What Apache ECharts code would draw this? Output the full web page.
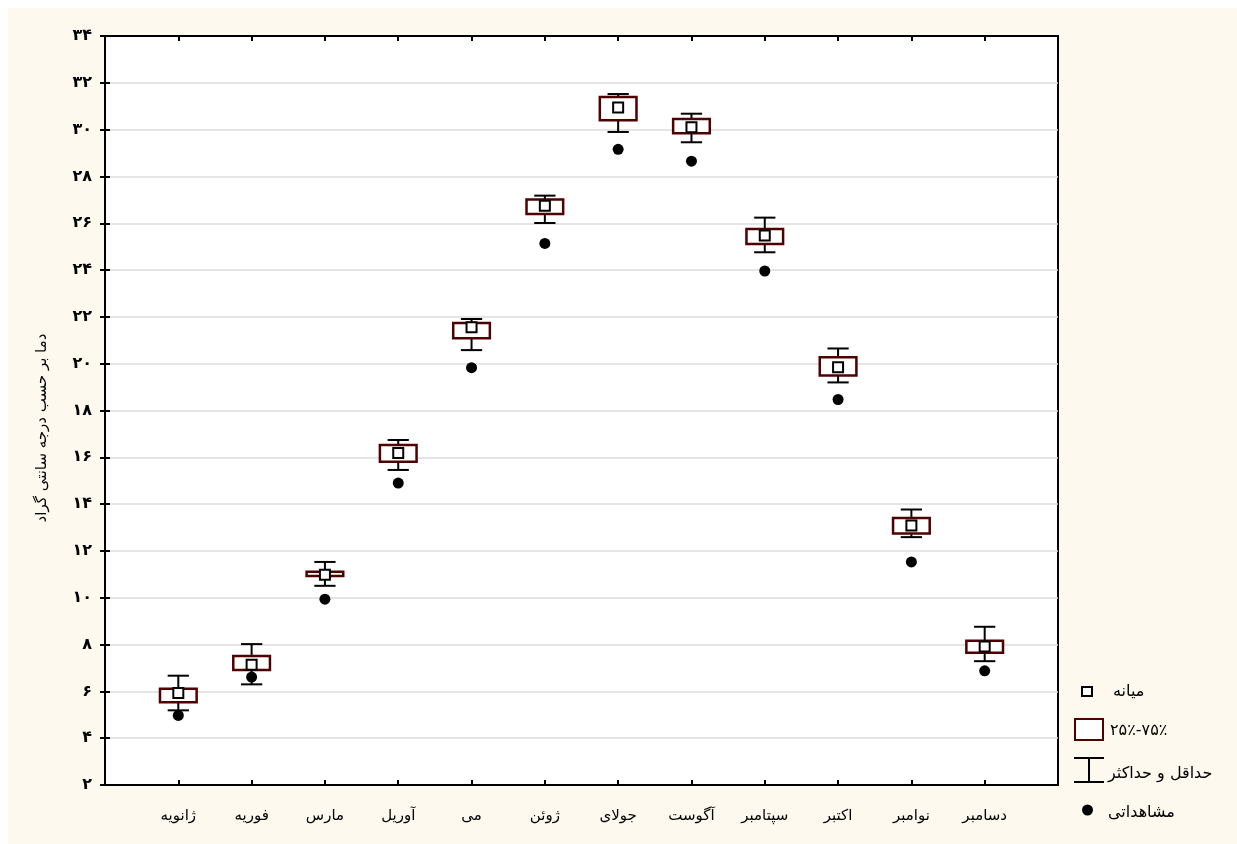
<!DOCTYPE html>
<html lang="fa">
<head>
<meta charset="utf-8">
<title>دما بر حسب درجه سانتی گراد</title>
<script src="https://cdn.jsdelivr.net/npm/echarts@6/dist/echarts.min.js"></script>
<style>
  html, body { margin: 0; padding: 0; background: #ffffff; }
  #chart { position: absolute; left: 8px; top: 8px; width: 1229px; height: 836px; }
</style>
</head>
<body>
<div id="chart"></div>
<script>
// Monthly temperature ranges (°C)
const months = ['ژانویه', 'فوریه', 'مارس', 'آوریل', 'می', 'ژوئن', 'جولای', 'آگوست', 'سپتامبر', 'اکتبر', 'نوامبر', 'دسامبر'];
const whiskerMin = [5.19, 6.30, 10.51, 15.46, 20.58, 26.01, 29.90, 29.46, 24.76, 19.20, 12.59, 7.29];
const q1 =         [5.54, 6.91, 10.93, 15.81, 21.09, 26.39, 30.40, 29.84, 25.11, 19.49, 12.74, 7.65];
const median =     [5.93, 7.14, 10.98, 16.18, 21.56, 26.75, 30.95, 30.10, 25.48, 19.85, 13.09, 7.92];
const q3 =         [6.11, 7.51, 11.11, 16.53, 21.74, 27.02, 31.39, 30.45, 25.75, 20.28, 13.41, 8.16];
const whiskerMax = [6.67, 8.02, 11.53, 16.74, 21.91, 27.18, 31.52, 30.68, 26.24, 20.65, 13.77, 8.76];
const observed =   [4.97, 6.61, 9.94, 14.90, 19.83, 25.14, 29.16, 28.65, 23.96, 18.47, 11.53, 6.88];

const yMin = 2, yMax = 34, yStep = 2;
const yTitle = 'دما بر حسب درجه سانتی گراد';
const legendLabels = ['میانه', '۲۵٪-۷۵٪', 'حداقل و حداکثر', 'مشاهداتی'];

const FA_DIGITS = '۰۱۲۳۴۵۶۷۸۹';
const toFa = (n) => String(n).replace(/\d/g, (d) => FA_DIGITS[+d]);

const FONT = "'DejaVu Sans', sans-serif";
const BOX_COLOR = '#4f0000';

const boxData = months.map((m, i) => [i + 1, whiskerMin[i], q1[i], median[i], q3[i], whiskerMax[i]]);
const dotData = months.map((m, i) => [i + 1, observed[i]]);

function renderBox(params, api) {
  const x = api.value(0);
  const lo = api.coord([x, api.value(1)]);
  const b1 = api.coord([x, api.value(2)]);
  const md = api.coord([x, api.value(3)]);
  const b3 = api.coord([x, api.value(4)]);
  const hi = api.coord([x, api.value(5)]);
  const boxW = api.size([0.5, 0])[0];
  const capW = api.size([0.29, 0])[0];
  const cx = lo[0];
  const line = { stroke: '#000', lineWidth: 2 };
  return {
    type: 'group',
    children: [
      { type: 'line', shape: { x1: cx, y1: lo[1], x2: cx, y2: hi[1] }, style: line },
      { type: 'line', shape: { x1: cx - capW / 2, y1: hi[1], x2: cx + capW / 2, y2: hi[1] }, style: line },
      { type: 'line', shape: { x1: cx - capW / 2, y1: lo[1], x2: cx + capW / 2, y2: lo[1] }, style: line },
      { type: 'rect', shape: { x: cx - boxW / 2, y: b3[1], width: boxW, height: b1[1] - b3[1] },
        style: { fill: '#fff', stroke: BOX_COLOR, lineWidth: 2.5 } },
      { type: 'rect', shape: { x: cx - 5, y: md[1] - 5, width: 10, height: 10 },
        style: { fill: '#fff', stroke: '#000', lineWidth: 2 } }
    ]
  };
}

// Legend drawn at the right-hand side of the plot (coordinates within the chart box)
const OX = 8, OY = 8;
const legendText = (txt, x, y) => ({
  type: 'text', x: x - OX, y: y - OY,
  style: { text: txt, font: `16px ${FONT}`, fill: '#000', align: 'left', verticalAlign: 'middle' }
});
const legend = [
  { type: 'rect', shape: { x: 1082 - OX, y: 687 - OY, width: 10, height: 9 },
    style: { fill: '#fff', stroke: '#000', lineWidth: 2 } },
  legendText(legendLabels[0], 1113, 692),
  { type: 'rect', shape: { x: 1075 - OX, y: 719 - OY, width: 28, height: 21 },
    style: { fill: '#fff', stroke: BOX_COLOR, lineWidth: 2 } },
  legendText(legendLabels[1], 1110, 731),
  { type: 'line', shape: { x1: 1074 - OX, y1: 758 - OY, x2: 1104 - OX, y2: 758 - OY }, style: { stroke: '#000', lineWidth: 2 } },
  { type: 'line', shape: { x1: 1089 - OX, y1: 758 - OY, x2: 1089 - OX, y2: 782 - OY }, style: { stroke: '#000', lineWidth: 2 } },
  { type: 'line', shape: { x1: 1074 - OX, y1: 782 - OY, x2: 1104 - OX, y2: 782 - OY }, style: { stroke: '#000', lineWidth: 2 } },
  legendText(legendLabels[2], 1108, 774),
  { type: 'circle', shape: { cx: 1087.5 - OX, cy: 810 - OY, r: 5.5 }, style: { fill: '#000' } },
  legendText(legendLabels[3], 1108, 813),
  { type: 'text', rotation: Math.PI / 2, x: 42 - OX, y: 428 - OY,
    style: { text: yTitle, font: `15px ${FONT}`, fill: '#000', align: 'center', verticalAlign: 'middle' } }
];

const chart = echarts.init(document.getElementById('chart'), null, { renderer: 'canvas' });
chart.setOption({
  backgroundColor: '#fdf9ee',
  animation: false,
  grid: {
    left: 97, top: 28, right: 179, bottom: 59,
    show: true, backgroundColor: '#ffffff', borderColor: '#000', borderWidth: 2
  },
  xAxis: [
    {
      type: 'value', min: 0, max: months.length + 1, interval: 1,
      axisLine: { show: true, lineStyle: { color: '#000', width: 2 } },
      axisTick: { inside: true, length: 5, lineStyle: { color: '#000', width: 2 } },
      splitLine: { show: false },
      axisLabel: {
        margin: 24, color: '#000', fontSize: 15, fontFamily: FONT,
        formatter: (v) => (v >= 1 && v <= months.length ? months[v - 1] : '')
      }
    },
    {
      type: 'value', position: 'top', min: 0, max: months.length + 1, interval: 1,
      axisLine: { show: true, lineStyle: { color: '#000', width: 2 } },
      axisTick: { inside: true, length: 5, lineStyle: { color: '#000', width: 2 } },
      splitLine: { show: false }, axisLabel: { show: false }
    }
  ],
  yAxis: [
    {
      type: 'value', min: yMin, max: yMax, interval: yStep,
      axisLine: { show: true, lineStyle: { color: '#000', width: 2 } },
      axisTick: { inside: true, length: 5, lineStyle: { color: '#000', width: 2 } },
      splitLine: { show: true, lineStyle: { color: '#dcdcdc', width: 1.5 } },
      axisLabel: { margin: 13, color: '#000', fontSize: 16, fontWeight: 'bold', fontFamily: FONT, formatter: (v) => toFa(v) }
    },
    {
      type: 'value', position: 'right', min: yMin, max: yMax, interval: yStep,
      axisLine: { show: true, lineStyle: { color: '#000', width: 2 } },
      axisTick: { inside: true, length: 5, lineStyle: { color: '#000', width: 2 } },
      splitLine: { show: false }, axisLabel: { show: false }
    }
  ],
  graphic: legend,
  series: [
    {
      type: 'custom', name: 'range', xAxisIndex: 0, yAxisIndex: 0,
      renderItem: renderBox, data: boxData,
      encode: { x: 0, y: [1, 2, 3, 4, 5] }, clip: false, z: 3
    },
    {
      type: 'scatter', name: 'observed', xAxisIndex: 0, yAxisIndex: 0,
      data: dotData, symbol: 'circle', symbolSize: 11,
      itemStyle: { color: '#000', opacity: 1 }, z: 4
    }
  ]
});
</script>
</body>
</html>
